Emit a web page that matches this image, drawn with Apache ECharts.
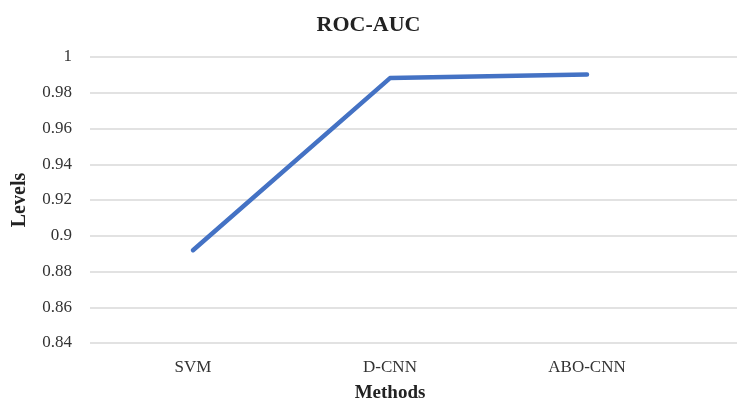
<!DOCTYPE html>
<html><head><meta charset="utf-8">
<script src="https://cdn.jsdelivr.net/npm/echarts@6/dist/echarts.min.js"></script>
<style>html,body{margin:0;padding:0;background:#fff}#c{width:737px;height:408px}</style>
</head><body><div id="c"></div>
<script>
const categories = ['SVM', 'D-CNN', 'ABO-CNN'];
const rocAuc = [0.89, 0.988, 0.99];
const yMin = 0.84, yMax = 1, yStep = 0.02;

const font = '"Liberation Serif", "Times New Roman", serif';
const chart = echarts.init(document.getElementById('c'));
chart.setOption({
  backgroundColor: '#fff',
  animation: false,
  title: { text: 'ROC-AUC', left: 'center', top: 9,
    textStyle: { fontFamily: font, fontSize: 22, fontWeight: 'bold', color: '#222' } },
  grid: [
    { left: 90, right: 0, top: 57, bottom: 65 },
    { left: 94.5, width: 591, top: 57, bottom: 65 }
  ],
  xAxis: [
    { gridIndex: 0, type: 'value', show: false, min: 0, max: 1 },
    { gridIndex: 1, type: 'category', data: categories, boundaryGap: true,
      axisLine: { show: false }, axisTick: { show: false },
      axisLabel: { fontFamily: font, fontSize: 17, color: '#333', margin: 21 },
      name: 'Methods', nameLocation: 'middle', nameGap: 46,
      nameTextStyle: { fontFamily: font, fontSize: 19, fontWeight: 'bold', color: '#222' } }
  ],
  yAxis: [
    { gridIndex: 0, type: 'value', min: yMin, max: yMax, interval: yStep,
      axisLine: { show: false }, axisTick: { show: false },
      splitLine: { lineStyle: { color: '#d9d9d9', width: 1.5 } },
      axisLabel: { fontFamily: font, fontSize: 17, color: '#333', margin: 18,
        formatter: v => String(+v.toFixed(2)) },
      name: 'Levels', nameLocation: 'middle', nameGap: 60,
      nameTextStyle: { fontFamily: font, fontSize: 20, fontWeight: 'bold', color: '#222' } },
    { gridIndex: 1, type: 'value', min: yMin, max: yMax, interval: yStep, show: false }
  ],
  series: [{
    type: 'line', xAxisIndex: 1, yAxisIndex: 1, data: rocAuc,
    symbol: 'none', lineStyle: { color: '#4472C4', width: 4.5, cap: 'round', join: 'round' }
  }]
});
</script></body></html>
